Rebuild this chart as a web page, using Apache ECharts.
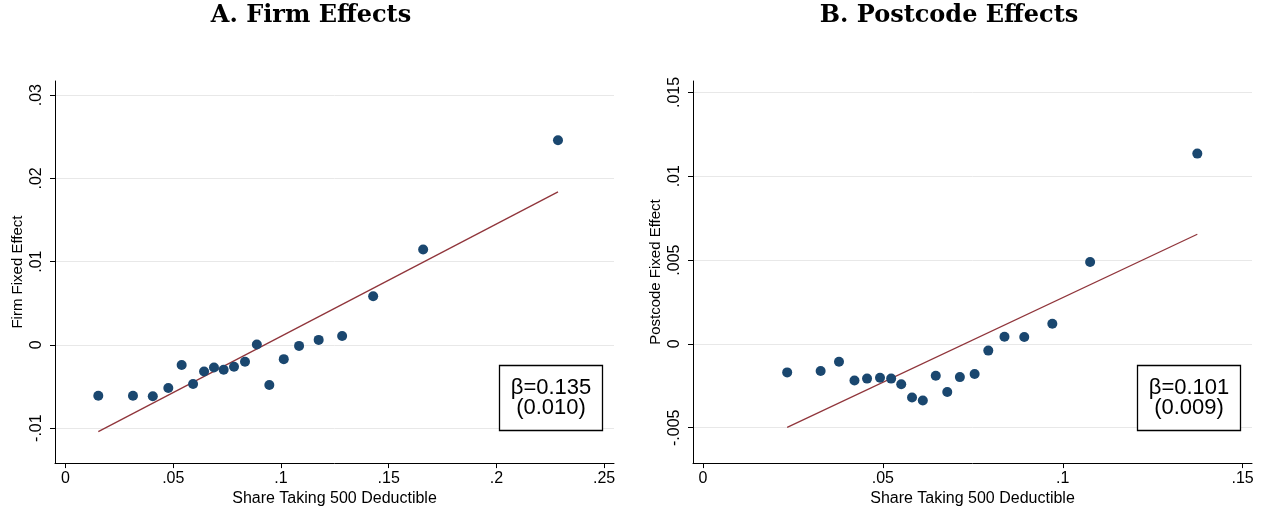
<!DOCTYPE html>
<html><head><meta charset="utf-8">
<script src="https://cdn.jsdelivr.net/npm/echarts@6/dist/echarts.min.js"></script>
<style>html,body{margin:0;padding:0;background:#fff}#c{width:1265px;height:512px}</style>
</head><body><div id="c"></div>
<script>
// Panel A: Firm effects (binned scatter)
const firmX = [0.0152, 0.0313, 0.0405, 0.0477, 0.0539, 0.0592, 0.0643, 0.0689, 0.0734, 0.0782,
               0.0833, 0.0888, 0.0946, 0.1013, 0.1084, 0.1175, 0.1284, 0.1428, 0.1660, 0.2286];
const firmY = [-0.00612, -0.00612, -0.00617, -0.00517, -0.00242, -0.00469, -0.00319, -0.00271, -0.00298, -0.00263,
               -0.00203, 0.00004, -0.00481, -0.00171, -0.00012, 0.00060, 0.00107, 0.00585, 0.01146, 0.02458];
const firmFitX = [0.0152, 0.2286];
const firmFitY = [-0.01042, 0.01839];
const firmBeta = 'β=0.135';
const firmSe = '(0.010)';

// Panel B: Postcode effects
const postX = [0.0234, 0.0327, 0.0378, 0.0421, 0.0456, 0.0492, 0.0523, 0.0551, 0.0581, 0.0611,
               0.0647, 0.0679, 0.0714, 0.0755, 0.0793, 0.0838, 0.0893, 0.0971, 0.1076, 0.1374];
const postY = [-0.00170, -0.00162, -0.00107, -0.00218, -0.00207, -0.00202, -0.00207, -0.00241, -0.00320, -0.00338,
               -0.00190, -0.00287, -0.00198, -0.00180, -0.00040, 0.00043, 0.00041, 0.00120, 0.00488, 0.01135];
const postFitX = [0.0234, 0.1374];
const postFitY = [-0.00498, 0.00654];
const postBeta = 'β=0.101';
const postSe = '(0.009)';

// Ticks
const firmXTicks = [0, 0.05, 0.1, 0.15, 0.2, 0.25];
const firmXTickLabels = ['0', '.05', '.1', '.15', '.2', '.25'];
const firmYTicks = [-0.01, 0, 0.01, 0.02, 0.03];
const firmYTickLabels = ['-.01', '0', '.01', '.02', '.03'];
const postXTicks = [0, 0.05, 0.1, 0.15];
const postXTickLabels = ['0', '.05', '.1', '.15'];
const postYTicks = [-0.005, 0, 0.005, 0.01, 0.015];
const postYTickLabels = ['-.005', '0', '.005', '.01', '.015'];

const SANS = '"Liberation Sans", Arial, Helvetica, sans-serif';
const SERIF = '"DejaVu Serif", "Liberation Serif", serif';
const NAVY = '#1a476f';
const MAROON = '#90353b';

function lookup(ticks, labels) {
  return function (v) {
    let best = 0, d = Infinity;
    ticks.forEach((t, i) => { const dd = Math.abs(t - v); if (dd < d) { d = dd; best = i; } });
    return labels[best];
  };
}
function zip(xs, ys) { return xs.map((x, i) => [x, ys[i]]); }

function xAxis(idx, min, max, ticks, labels) {
  return {
    type: 'value', gridIndex: idx, min: min, max: max,
    name: 'Share Taking 500 Deductible', nameLocation: 'middle', nameGap: 27,
    nameTextStyle: { fontFamily: SANS, fontSize: 16, color: '#000' },
    axisLine: { show: true, onZero: false, lineStyle: { color: '#000', width: 1 } },
    axisTick: { show: true, length: 5, customValues: ticks, lineStyle: { color: '#000' } },
    axisLabel: { show: true, customValues: ticks, formatter: lookup(ticks, labels), fontFamily: SANS, fontSize: 16, color: '#000', margin: 7 },
    splitLine: { show: false }
  };
}
function yAxis(idx, min, max, ticks, labels, name) {
  return {
    type: 'value', gridIndex: idx, min: min, max: max,
    name: name, nameLocation: 'middle', nameGap: 30, nameRotate: 90,
    nameTextStyle: { fontFamily: SANS, fontSize: 15, color: '#000' },
    axisLine: { show: true, onZero: false, lineStyle: { color: '#000', width: 1 } },
    axisTick: { show: true, length: 5, customValues: ticks, lineStyle: { color: '#000' } },
    axisLabel: { show: true, rotate: 90, customValues: ticks, formatter: lookup(ticks, labels), fontFamily: SANS, fontSize: 16, color: '#000', margin: 10 },
    splitLine: { show: true, lineStyle: { color: '#e8e8e8', width: 1 } }
  };
}

const chart = echarts.init(document.getElementById('c'), null, { renderer: 'canvas' });
chart.setOption({
  animation: false,
  backgroundColor: '#fff',
  title: [
    { text: 'A. Firm Effects', left: 311, top: 4, textAlign: 'center', padding: 0,
      textStyle: { fontFamily: SERIF, fontWeight: 'bold', fontSize: 24, color: '#000' } },
    { text: 'B. Postcode Effects', left: 949, top: 4, textAlign: 'center', padding: 0,
      textStyle: { fontFamily: SERIF, fontWeight: 'bold', fontSize: 24, color: '#000' } },
    { text: firmBeta + '\n' + firmSe, left: 540, top: 366, textAlign: 'center',
      borderColor: '#000', borderWidth: 1.3, padding: [12, 11, 12, 11], backgroundColor: '#fff',
      textStyle: { fontFamily: SANS, fontWeight: 'normal', fontSize: 22, lineHeight: 20, color: '#000', align: 'center' } },
    { text: postBeta + '\n' + postSe, left: 1178, top: 366, textAlign: 'center',
      borderColor: '#000', borderWidth: 1.3, padding: [12, 11, 12, 11], backgroundColor: '#fff',
      textStyle: { fontFamily: SANS, fontWeight: 'normal', fontSize: 22, lineHeight: 20, color: '#000', align: 'center' } }
  ],
  grid: [
    { left: 55, top: 81, width: 559, height: 384, containLabel: false },
    { left: 693, top: 81, width: 559, height: 384, containLabel: false }
  ],
  xAxis: [
    xAxis(0, -0.0049, 0.2546, firmXTicks, firmXTickLabels),
    xAxis(1, -0.00278, 0.1526, postXTicks, postXTickLabels)
  ],
  yAxis: [
    yAxis(0, -0.0142, 0.0317, firmYTicks, firmYTickLabels, 'Firm Fixed Effect'),
    yAxis(1, -0.00711, 0.01568, postYTicks, postYTickLabels, 'Postcode Fixed Effect')
  ],
  series: [
    { type: 'line', xAxisIndex: 0, yAxisIndex: 0, data: zip(firmFitX, firmFitY), symbol: 'none',
      lineStyle: { color: MAROON, width: 1.3 }, z: 2 },
    { type: 'scatter', xAxisIndex: 0, yAxisIndex: 0, data: zip(firmX, firmY), symbol: 'circle', symbolSize: 10,
      itemStyle: { color: NAVY, opacity: 1 }, z: 3 },
    { type: 'line', xAxisIndex: 1, yAxisIndex: 1, data: zip(postFitX, postFitY), symbol: 'none',
      lineStyle: { color: MAROON, width: 1.3 }, z: 2 },
    { type: 'scatter', xAxisIndex: 1, yAxisIndex: 1, data: zip(postX, postY), symbol: 'circle', symbolSize: 10,
      itemStyle: { color: NAVY, opacity: 1 }, z: 3 }
  ]
});
</script>
</body></html>
